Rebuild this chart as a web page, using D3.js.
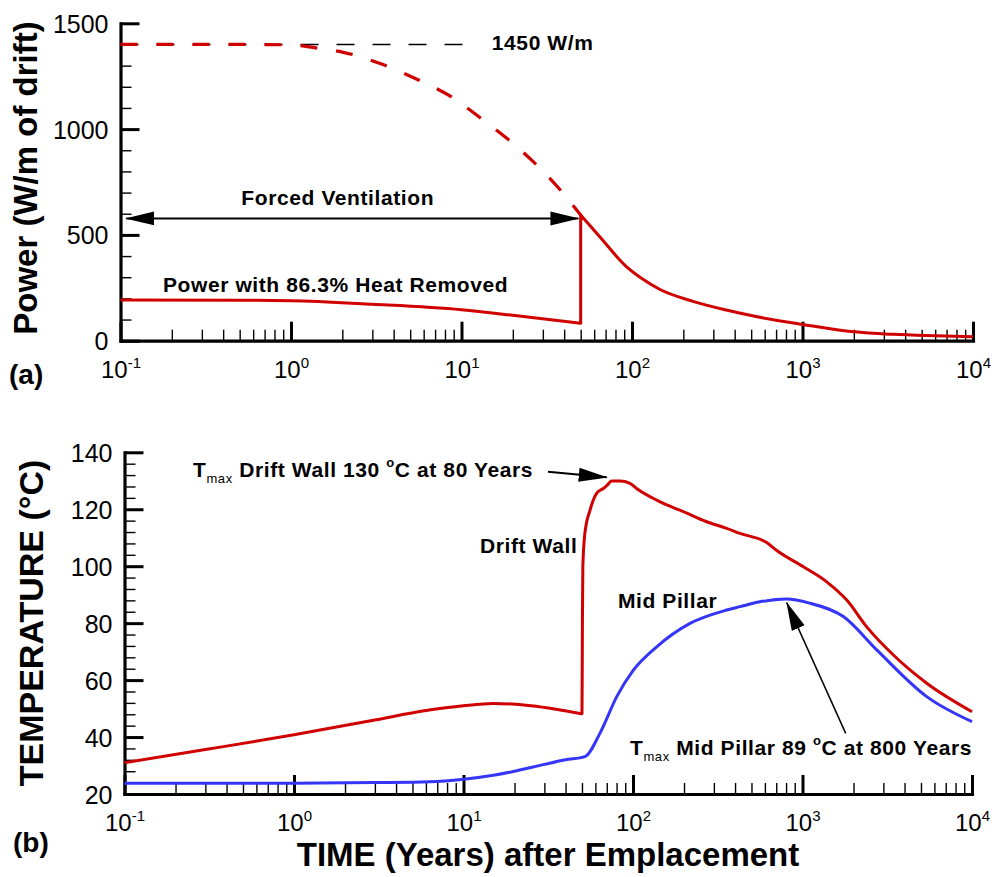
<!DOCTYPE html>
<html>
<head>
<meta charset="utf-8">
<script src="https://cdn.jsdelivr.net/npm/d3@7"></script>
<style>
  body { margin: 0; background: #fff; }
  svg { display: block; font-family: "Liberation Sans", Arial, Helvetica, sans-serif; }
</style>
</head>
<body>
<div id="chart"></div>
<script>
// ---- panel (a): heat output per metre of drift ----
// full power (no ventilation), dashed
const fullYears = [0.1, 0.5, 1, 1.5, 2, 3.3, 5.6, 8.7, 13, 19, 27, 38, 50];
const fullWatts = [1400, 1400, 1398, 1380, 1364, 1311, 1232, 1153, 1051, 948, 838, 712, 594];
// power with 86.3% removed while ventilated (jump at 50 y)
const ventYears = [0.1, 0.5, 1, 3, 10, 20, 50, 50, 64.7, 92.7, 116, 145, 228, 357, 561, 1000, 2000, 3400, 5300, 10000];
const ventWatts = [192, 191, 189, 172, 146, 120, 82, 594, 491, 350, 290, 243, 186, 145, 111, 77, 42, 30, 24, 19];
const refWatts = 1400;      // drawn reference line, labelled 1450 W/m
const refEndYears = 11.3;

// ---- panel (b): temperatures ----
const wallYears = [0.1, 0.3, 1, 3, 6, 10, 15, 25, 35, 48.6, 50, 50.3, 50.6, 52, 55.8, 61, 66.9, 70, 74.9, 83.8, 96, 105, 138, 158, 189, 272, 357, 428, 615, 705, 1012, 1389, 1824, 2393, 3437, 5406, 10000];
const wallTemps = [31.0, 35.6, 40.8, 46.0, 49.3, 51.0, 51.8, 51.0, 49.8, 48.3, 48.2, 80, 100, 111.5, 119.7, 125.6, 127.3, 128.3, 129.9, 129.9, 129.1, 127.3, 123.2, 121.5, 119.7, 115.6, 113.3, 111.5, 108.3, 105.5, 99.8, 94.5, 88.1, 78.7, 68.8, 58.9, 48.9];
const pillarYears = [0.1, 1, 3, 6.3, 10, 15, 20, 30, 40, 52, 63.8, 80.2, 100.5, 138, 217, 357, 428, 561, 807, 1107, 1742, 2742, 5406, 10000];
const pillarTemps = [23.8, 23.8, 24.0, 24.3, 25.2, 26.6, 28.0, 30.4, 32.0, 33.1, 41.3, 54.2, 63.5, 71.7, 79.9, 84.6, 85.8, 87.5, 88.5, 87.0, 82.3, 70.6, 54.2, 45.4];

// ---- ticks ----
const decades = [0.1, 1, 10, 100, 1000, 10000];
const decadeExps = ["-1", "0", "1", "2", "3", "4"];
const powerTicks = [0, 500, 1000, 1500];
const tempTicks = [20, 40, 60, 80, 100, 120, 140];

const RED = "#d00000", BLUE = "#3535f8";
const width = 994, height = 877;

const svg = d3.select("#chart").append("svg")
  .attr("width", width).attr("height", height);
svg.append("rect").attr("width", width).attr("height", height).attr("fill", "#fff");

const defs = svg.append("defs");
defs.append("marker")
  .attr("id", "head")
  .attr("markerUnits", "userSpaceOnUse")
  .attr("viewBox", "0 -8 30 16")
  .attr("markerWidth", 30).attr("markerHeight", 16)
  .attr("refX", 28).attr("refY", 0)
  .attr("orient", "auto-start-reverse")
  .append("path").attr("d", "M0,-7L29,0L0,7Z").attr("fill", "#000");

// scales
const xA = d3.scaleLog().domain([0.1, 10000]).range([120.5, 973]);
const yA = d3.scaleLinear().domain([0, 1500]).range([340.7, 23.3]);
const xB = d3.scaleLog().domain([0.1, 10000]).range([124.5, 972]);
const yB = d3.scaleLinear().domain([20, 140]).range([794, 452.3]);

const minorDecade = decades.slice(0, -1).flatMap(d => d3.range(2, 10).map(k => d * k));

function drawAxes(x, y, yMajor, yMinor) {
  const y0 = y.range()[0], x0 = x.range()[0];
  const g = svg.append("g");

  // x minor
  g.append("g").attr("transform", `translate(0,${y0})`)
    .call(d3.axisBottom(x).tickValues(minorDecade).tickSize(-11).tickFormat(""))
    .call(s => s.select(".domain").remove())
    .selectAll("line").attr("stroke-width", 1.4);
  // y minor
  g.append("g").attr("transform", `translate(${x0},0)`)
    .call(d3.axisLeft(y).tickValues(yMinor).tickSize(-11).tickFormat(""))
    .call(s => s.select(".domain").remove())
    .selectAll("line").attr("stroke-width", 1.4);

  // x major with 10^n labels
  const gx = g.append("g").attr("transform", `translate(0,${y0})`)
    .call(d3.axisBottom(x).tickValues(decades).tickSize(-19).tickSizeOuter(0).tickFormat(""));
  gx.selectAll("line").attr("stroke-width", 3);
  gx.select(".domain").attr("stroke-width", 3.2).attr("stroke-linecap", "square");
  gx.selectAll(".tick text").each(function (d, i) {
    const t = d3.select(this).attr("y", 37).attr("dy", null)
      .attr("font-size", 24).attr("fill", "#000");
    t.append("tspan").text("10");
    t.append("tspan").attr("font-size", 15).attr("dy", -10).text(decadeExps[i]);
  });

  // y major
  const gy = g.append("g").attr("transform", `translate(${x0},0)`)
    .call(d3.axisLeft(y).tickValues(yMajor).tickSize(-19).tickSizeOuter(0)
      .tickPadding(12).tickFormat(d3.format("d")));
  gy.selectAll("line").attr("stroke-width", 3);
  gy.select(".domain").attr("stroke-width", 3.2).attr("stroke-linecap", "square");
  gy.selectAll(".tick text").attr("font-size", 25).attr("fill", "#000").attr("dy", "0.36em");

  g.selectAll("g").attr("font-family", null);
}

function trace(x, y, ts, vs) {
  const line = d3.line().x(d => x(d[0])).y(d => y(d[1])).curve(d3.curveMonotoneX);
  const pts = ts.map((t, i) => [t, vs[i]]);
  const runs = [[pts[0]]];
  for (let i = 1; i < pts.length; i++) {
    if (pts[i][0] === pts[i - 1][0]) runs.push([]);
    runs[runs.length - 1].push(pts[i]);
  }
  return runs.map((r, i) => i ? "L" + line(r).slice(1) : line(r)).join("");
}

function label(x, y, t, v, parts, anchor) {
  const txt = svg.append("text")
    .attr("x", x(t)).attr("y", y(v))
    .attr("font-size", 21).attr("font-weight", "bold")
    .attr("letter-spacing", 0.6)
    .attr("text-anchor", anchor || "start");
  let shift = 0;
  parts.forEach(p => {
    const want = p.sub ? 6.5 : p.sup ? -10 : 0;
    const ts = txt.append("tspan").attr("dy", want - shift).text(p.s);
    if (p.sub || p.sup) ts.attr("font-size", 13).attr("font-weight", p.sub ? "normal" : "bold");
    shift = want;
  });
  return txt;
}

function arrow(x, y, from, to, w, both) {
  const a = svg.append("line")
    .attr("x1", x(from[0])).attr("y1", y(from[1]))
    .attr("x2", x(to[0])).attr("y2", y(to[1]))
    .attr("stroke", "#000").attr("stroke-width", w)
    .attr("marker-end", "url(#head)");
  if (both) a.attr("marker-start", "url(#head)");
}

// ================= panel (a) =================
drawAxes(xA, yA, powerTicks, d3.range(0, 1501, 100).filter(v => v % 500));

svg.append("line")
  .attr("x1", xA(0.1)).attr("x2", xA(refEndYears))
  .attr("y1", yA(refWatts)).attr("y2", yA(refWatts))
  .attr("stroke", "#000").attr("stroke-width", 1.6)
  .attr("stroke-dasharray", "18,18");

svg.append("path")
  .attr("d", trace(xA, yA, fullYears, fullWatts))
  .attr("fill", "none").attr("stroke", RED).attr("stroke-width", 3.2)
  .attr("stroke-dasharray", "17,19");

svg.append("path")
  .attr("d", trace(xA, yA, ventYears, ventWatts))
  .attr("fill", "none").attr("stroke", RED).attr("stroke-width", 3)
  .attr("stroke-linejoin", "round");

arrow(xA, yA, [0.108, 578], [48.5, 578], 2, true);
label(xA, yA, 1.88, 641, [{ s: "Forced Ventilation" }], "middle");
label(xA, yA, 15.06, 1374, [{ s: "1450 W/m" }]);
label(xA, yA, 0.1774, 231.6, [{ s: "Power with 86.3% Heat Removed" }]);

svg.append("text")
  .attr("transform", "translate(37,178) rotate(-90)")
  .attr("text-anchor", "middle").attr("font-size", 33).attr("font-weight", "bold")
  .text("Power (W/m of drift)");
svg.append("text").attr("x", 9).attr("y", 384)
  .attr("font-size", 28).attr("font-weight", "bold").text("(a)");

// ================= panel (b) =================
drawAxes(xB, yB, tempTicks, d3.range(20, 141, 4).filter(v => v % 20));

svg.append("path")
  .attr("d", trace(xB, yB, wallYears, wallTemps))
  .attr("fill", "none").attr("stroke", RED).attr("stroke-width", 3)
  .attr("stroke-linejoin", "round");
svg.append("path")
  .attr("d", trace(xB, yB, pillarYears, pillarTemps))
  .attr("fill", "none").attr("stroke", BLUE).attr("stroke-width", 3)
  .attr("stroke-linejoin", "round");

label(xB, yB, 0.2535, 131.4, [
  { s: "T" }, { s: "max", sub: true }, { s: " Drift Wall 130 " }, { s: "o", sup: true }, { s: "C at 80 Years" }
]);
arrow(xB, yB, [31.5, 133.2], [70, 131.2], 2);
label(xB, yB, 12.51, 104.5, [{ s: "Drift Wall" }]);
label(xB, yB, 81.5, 85.4, [{ s: "Mid Pillar" }]);
label(xB, yB, 96, 33.7, [
  { s: "T" }, { s: "max", sub: true }, { s: " Mid Pillar 89 " }, { s: "o", sup: true }, { s: "C at 800 Years" }
]);
arrow(xB, yB, [1799, 41.3], [807, 87.2], 1.5);

svg.append("text")
  .attr("transform", "translate(43,623) rotate(-90)")
  .attr("text-anchor", "middle").attr("font-size", 34).attr("font-weight", "bold")
  .text("TEMPERATURE (°C)");
svg.append("text").attr("x", 548).attr("y", 866)
  .attr("text-anchor", "middle").attr("font-size", 33).attr("font-weight", "bold")
  .text("TIME (Years) after Emplacement");
svg.append("text").attr("x", 13).attr("y", 852)
  .attr("font-size", 28).attr("font-weight", "bold").text("(b)");
</script>
</body>
</html>
